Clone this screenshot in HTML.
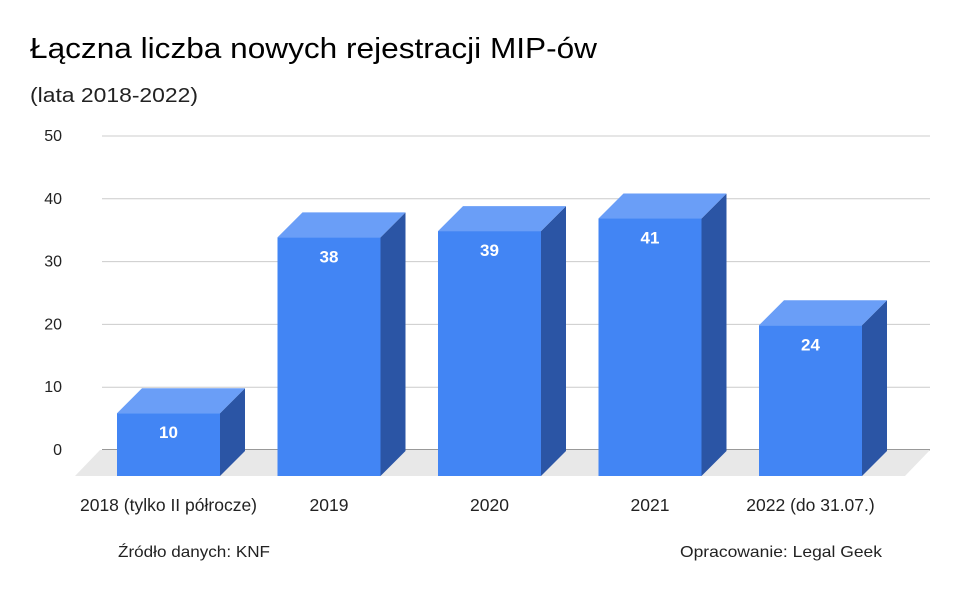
<!DOCTYPE html>
<html><head><meta charset="utf-8"><style>
body{margin:0;background:#fff;}
svg text{font-family:"Liberation Sans",Arial,sans-serif;}
</style></head><body>
<svg id="chart" width="960" height="594" viewBox="0 0 960 594" xmlns="http://www.w3.org/2000/svg">
<rect width="960" height="594" fill="#fff"/>
<text x="30" y="58" font-size="29" fill="#000" textLength="567" lengthAdjust="spacingAndGlyphs">Łączna liczba nowych rejestracji MIP-ów</text>
<text x="30" y="102" font-size="20" fill="#222" textLength="168" lengthAdjust="spacingAndGlyphs">(lata 2018-2022)</text>
<g id="grid"></g><g id="floor"></g><g id="bars"></g><g id="xlabels"></g>
<text x="118" y="557" font-size="16" fill="#222" textLength="152" lengthAdjust="spacingAndGlyphs">Źródło danych: KNF</text>
<text x="680" y="557" font-size="16" fill="#222" textLength="202" lengthAdjust="spacingAndGlyphs">Opracowanie: Legal Geek</text>
</svg>
<script>
const categories=["2018 (tylko II półrocze)","2019","2020","2021","2022 (do 31.07.)"];
const values=[10,38,39,41,24];
const yTicks=[0,10,20,30,40,50];
const ns="http://www.w3.org/2000/svg";
const gridY0=450, pxPer=6.28, depth=25, floorY=476;
function yGrid(v){return gridY0-v*pxPer;}
function yBar(v){return floorY-v*pxPer;}
function xBar(i){return 117+i*160.5;}
const barW=103;
function mk(tag,attrs,parent){const e=document.createElementNS(ns,tag);for(const k in attrs)e.setAttribute(k,attrs[k]);parent.appendChild(e);return e;}
const grid=document.getElementById('grid');
yTicks.forEach(t=>{
  const l=mk('line',{x1:102,x2:930,y1:yGrid(t),y2:yGrid(t),stroke:t===0?'#333':'#ccc','stroke-width':1},grid);
  
  
  const tx=mk('text',{x:62,y:yGrid(t)+5,'font-size':16,'text-anchor':'end',fill:'#222'},grid);
  tx.textContent=t;
  
  
});
const fl=mk('polygon',{points:`75,${floorY} 905,${floorY} 930,${gridY0} 100,${gridY0}`,fill:'#e8e8e8'},document.getElementById('floor'));


const bars=document.getElementById('bars'), xl=document.getElementById('xlabels');
values.forEach((v,i)=>{
  const x=xBar(i), yt=yBar(v);
  const g=mk('g',{},bars);
  
  
  mk('polygon',{points:`${x+barW},${yt} ${x+barW+depth},${yt-depth} ${x+barW+depth},${floorY-depth} ${x+barW},${floorY}`,fill:'#2b55a5'},g);
  mk('polygon',{points:`${x},${yt} ${x+depth},${yt-depth} ${x+barW+depth},${yt-depth} ${x+barW},${yt}`,fill:'#6a9ef7'},g);
  mk('rect',{x:x,y:yt,width:barW,height:floorY-yt,fill:'#4285f4'},g);
  const t=mk('text',{x:x+barW/2,y:yt+25,'font-size':17,'font-weight':'bold',fill:'#fff','text-anchor':'middle'},g);
  t.textContent=v;
  
  
  const c=mk('text',{x:x+barW/2,y:511,'font-size':17.5,fill:'#222','text-anchor':'middle'},xl);
  c.textContent=categories[i];
  
  
});
</script>
</body></html>
